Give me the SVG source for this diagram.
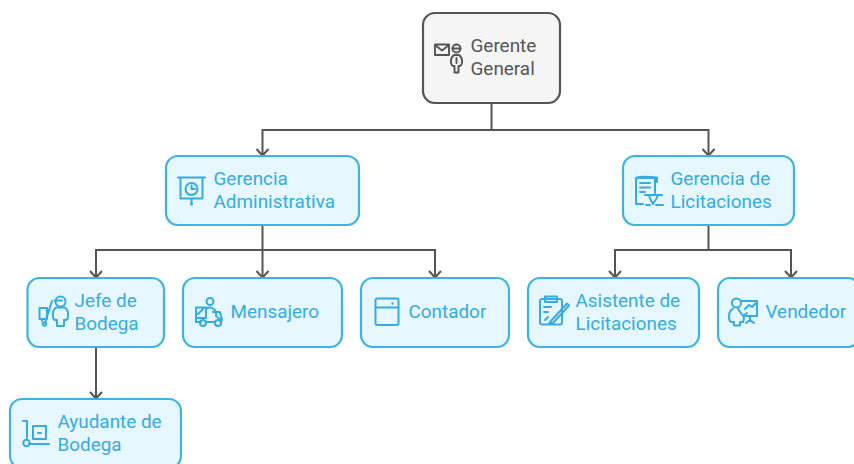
<svg xmlns="http://www.w3.org/2000/svg" width="854" height="464" viewBox="0 0 854 464">
<defs>
<style>
.n{fill:#e6f7ff;stroke:#3cb4e0;stroke-width:2.200}
.r{fill:#f5f5f5;stroke:#555;stroke-width:2.200}
.t{font-family:Roboto,"Liberation Sans",sans-serif;font-size:18.900px;fill:#35ace0}
.i{fill:none;stroke:#35ace0;stroke-width:2;stroke-linecap:round;stroke-linejoin:round}
.k{fill:none;stroke:#555;stroke-width:1.900;stroke-linecap:round;stroke-linejoin:round}
.c{fill:none;stroke:#555;stroke-width:2}
.a{fill:none;stroke:#555;stroke-width:2;stroke-linejoin:round}
</style>
</defs>
<rect width="854" height="464" fill="#fff"/>
<g id="connectors">
<path class="c" d="M491.500 103V130H262.500V155M491.500 130H708.500V155"/>
<path class="a" d="M256.500 149L262.500 155.500L268.500 149M702.500 149L708.500 155.500L714.500 149"/>
<path class="c" d="M262.500 225V250H96V277M262.500 250V277M262.500 250H435V277"/>
<path class="a" d="M90 271L96 277.500L102 271M256.500 271L262.500 277.500L268.500 271M429 271L435 277.500L441 271"/>
<path class="c" d="M708.500 225V250H615V277M708.500 250H791V277"/>
<path class="a" d="M609 271L615 277.500L621 271M785 271L791 277.500L797 271"/>
<path class="c" d="M96 347V398"/>
<path class="a" d="M90 392L96 398.500L102 392"/>
</g>
<g id="gerente-general">
<rect class="r" x="423" y="13" width="137" height="90" rx="12"/>
<path class="k" d="M435 44.500H449V55H435ZM435 45L442 50.500L449 45"/>
<circle class="k" cx="456.500" cy="48.500" r="4"/><path class="k" d="M452.500 48.500H460.500"/>
<path class="k" d="M454 55C450 58 450 64 453 66H454.500V72.500H458.500V66H460C463 64 463 58 459 55ZM456.500 58V63"/>
<text x="470.500" y="52" class="t" style="fill:#555">Gerente</text>
<text x="470.500" y="74.500" class="t" style="fill:#555">General</text>
</g>
<g id="gerencia-administrativa">
<rect class="n" x="166" y="156" width="193" height="69" rx="12"/>
<path class="i" d="M178 177.500H205M180.500 178V198.500H202.500V178M191.500 199V204"/>
<circle class="i" cx="191.500" cy="189" r="6"/><path class="i" d="M191.500 185.500V189H195"/><circle cx="191.500" cy="204" r="1.500" fill="#35ace0"/>
<text x="213.500" y="185" class="t">Gerencia</text>
<text x="213.500" y="207.500" class="t">Administrativa</text>
</g>
<g id="gerencia-licitaciones">
<rect class="n" x="623" y="156" width="171" height="69" rx="12"/>
<path class="i" d="M636 204V178H655V193M636 178C640 176 652 177 657 177.500V182H655M640 183H650M640 187.500H650M640 192H645M636 204H643"/>
<path class="i" d="M645 195H662M646 205H650M656 205H663M649 195C650 200 652 202 653 204C654 202 657 199 658 195"/>
<text x="670.500" y="185" class="t">Gerencia de</text>
<text x="670.500" y="207.500" class="t">Licitaciones</text>
</g>
<g id="jefe-bodega">
<rect class="n" x="27.500" y="278" width="136.500" height="69" rx="12"/>
<path class="i" d="M39.500 308H47V319H39.500ZM42 319V321M52 301L45 323"/><circle class="i" cx="44.500" cy="324" r="1.800"/>
<circle class="i" cx="60.500" cy="301.500" r="5"/><path class="i" d="M54.500 300.500H62"/>
<path class="i" d="M56 307.500C52 310 52 319 55 320H57V326H64V320H66C69 319 69 310 65 307.500Z"/>
<text x="74.500" y="307" class="t">Jefe de</text>
<text x="74.500" y="329.500" class="t">Bodega</text>
</g>
<g id="mensajero">
<rect class="n" x="183" y="278" width="159" height="69" rx="12"/>
<circle class="i" cx="210" cy="301.500" r="3.500"/>
<path class="i" d="M196 307.500H206V318H196ZM198 314L203 309M196 318V322H201M207 308C212 306 217 310 216 316L221 320V324M206 322H214M213 312H220L222 320"/>
<circle class="i" cx="203" cy="323" r="3"/><circle class="i" cx="218" cy="323" r="3"/>
<text x="230.500" y="318" class="t">Mensajero</text>
</g>
<g id="contador">
<rect class="n" x="361" y="278" width="148" height="69" rx="12"/>
<rect class="i" x="375.500" y="298.500" width="23" height="26.500" rx="2"/>
<path class="i" d="M375.500 307.500H398.500"/><circle cx="392.500" cy="303.500" r="1.200" fill="#35ace0"/>
<text x="408.500" y="318" class="t">Contador</text>
</g>
<g id="asistente-licitaciones">
<rect class="n" x="528" y="278" width="171" height="69" rx="12"/>
<rect class="i" x="540" y="299" width="22" height="25.500" rx="2"/>
<path class="i" d="M545 296.500H557V302H545ZM544 307H551M544 312H548M545 320L548 317M550 322L567 303.500L569 305.500L553 323L549 324Z"/>
<text x="575.500" y="307" class="t">Asistente de</text>
<text x="575.500" y="329.500" class="t">Licitaciones</text>
</g>
<g id="vendedor">
<rect class="n" x="718" y="278" width="142" height="69" rx="12"/>
<circle class="i" cx="736.500" cy="303" r="4.500"/>
<path class="i" d="M733 309C728 311 728 320 731 322H734V325.500H740V322H743C744 320 744 318 744 316M738 309L743 316L747 313"/>
<path class="i" d="M741 301H757V316H746M745 309L749 305L752 307L756 303M750 316V320M746 323L750 320L754 323"/>
<text x="765.500" y="318" class="t">Vendedor</text>
</g>
<g id="ayudante-bodega">
<rect class="n" x="10" y="399" width="171" height="69" rx="12"/>
<path class="i" d="M23 421H27V438M29 444H49"/>
<circle class="i" cx="26.500" cy="443" r="3.200"/>
<path class="i" d="M33 426H46V439H33ZM38 433H41"/>
<text x="57.500" y="428" class="t">Ayudante de</text>
<text x="57.500" y="450.500" class="t">Bodega</text>
</g>
</svg>
